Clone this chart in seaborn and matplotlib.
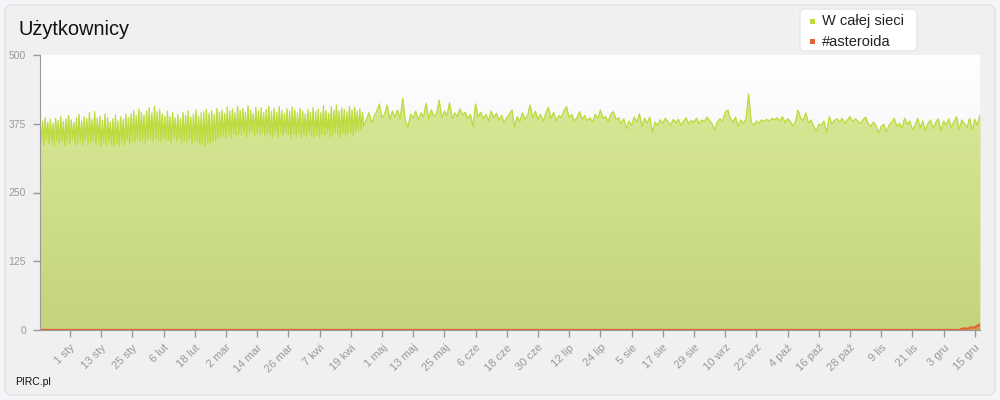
"""Użytkownicy - wykres obszarowy liczby użytkowników sieci."""

import numpy as np
import pandas as pd
import matplotlib
matplotlib.use('Agg')
import matplotlib.pyplot as plt
import matplotlib.dates as mdates
from matplotlib.patches import FancyBboxPatch, Rectangle
from matplotlib.transforms import IdentityTransform
from matplotlib.colors import to_rgb
import seaborn as sns

sns.set_style('white')
plt.rcParams['font.family'] = ['Liberation Sans', 'DejaVu Sans']

MONTHS = ['sty', 'lut', 'mar', 'kwi', 'maj', 'cze', 'lip', 'sie', 'wrz', 'paź', 'lis', 'gru']
Y_TICKS = [0, 125, 250, 375, 500]
SERIES_NAMES = ['W całej sieci', '#asteroida']

GREEN = '#bcdb3c'
ORANGE = '#e0652f'

# W całej sieci - co 12 godzin, od 20 gru 12:00 (dzień / noc)
users_winter = [
    384, 342, 380, 336, 386, 345, 378, 338, 383, 341, 376, 334, 385, 343,
    381, 337, 388, 344, 379, 335, 384, 342, 390, 339, 382, 346, 377, 336,
    386, 340, 392, 343, 380, 336, 388, 345, 384, 338, 395, 341, 383, 344,
    397, 337, 385, 342, 389, 333, 381, 340, 393, 336, 386, 343, 378, 338,
    384, 332, 391, 339, 380, 334, 388, 341, 383, 336, 392, 345, 386, 339,
    393, 344, 399, 341, 390, 348, 402, 343, 396, 346, 391, 340, 398, 345,
    404, 347, 395, 343, 407, 349, 397, 345, 401, 342, 393, 348, 389, 344,
    398, 346, 388, 341, 395, 349, 386, 343, 392, 347, 384, 340, 396, 345,
    390, 342, 398, 347, 387, 339, 393, 344, 400, 341, 389, 336, 395, 338,
    397, 334, 401, 340, 394, 337, 399, 343, 392, 345, 403, 348, 396, 351,
    400, 353, 394, 348, 405, 355, 398, 350, 402, 357, 395, 352, 407, 356,
    399, 354, 403, 358, 396, 351, 408, 356, 400, 360, 394, 353, 405, 357,
    398, 355, 404, 359, 395, 352, 401, 357, 407, 354, 397, 350, 403, 356,
    396, 351, 406, 357, 399, 353, 394, 359, 402, 355, 398, 349, 405, 356,
    400, 352, 395, 357, 403, 350, 398, 355, 393, 351, 401, 358, 396, 353,
    404, 350, 397, 355, 402, 349, 395, 356, 408, 352, 399, 357, 394, 351,
    406, 353, 400, 358, 409, 355, 398, 350, 404, 357, 401, 352, 397, 356,
    407, 358, 400, 354, 405, 360, 398, 362, 402, 364, 396, 370,
]

# W całej sieci - dziennie, od 25 kwi do 17 gru
users_rest = [
    383, 395, 377, 388, 398, 411, 386,
    392, 409, 383, 398, 387, 400, 384,
    421, 380, 369, 392, 386, 398, 381,
    395, 388, 412, 384, 400, 389, 393,
    418, 386, 398, 390, 413, 385, 395,
    388, 402, 391, 396, 384, 392, 370,
    411, 387, 396, 384, 392, 380, 398,
    386, 394, 381, 390, 377, 386, 392,
    400, 369, 388, 379, 395, 383, 390,
    409, 385, 398, 383, 392, 379, 394,
    405, 384, 396, 380, 390, 386, 399,
    406, 386, 392, 380, 386, 397, 383,
    390, 380, 386, 378, 392, 385, 400,
    385, 388, 379, 392, 397, 383, 386,
    375, 384, 366, 380, 372, 387, 378,
    393, 370, 385, 376, 387, 360, 378,
    372, 382, 376, 385, 379, 372, 383,
    377, 383, 372, 380, 386, 374, 381,
    378, 385, 375, 382, 379, 387, 381,
    374, 364, 378, 384, 380, 396, 400,
    385, 378, 387, 370, 382, 376, 384,
    429, 378, 372, 380, 376, 382, 379,
    383, 380, 385, 382, 386, 380, 388,
    377, 384, 380, 371, 378, 400, 386,
    380, 395, 376, 382, 371, 361, 374,
    372, 380, 358, 388, 375, 381, 384,
    378, 385, 376, 382, 388, 379, 384,
    380, 375, 382, 387, 375, 370, 378,
    372, 358, 370, 374, 360, 372, 378,
    385, 370, 376, 367, 385, 374, 380,
    364, 372, 385, 368, 380, 362, 376,
    382, 366, 378, 384, 362, 380, 372,
    384, 368, 379, 388, 364, 382, 375,
    368, 385, 364, 383, 372, 391,
]

# #asteroida - zero aż do połowy grudnia
asteroida_tail = [2, 3, 2, 4, 5, 4, 8, 10]

times = pd.date_range('2012-12-20 12:00', periods=len(users_winter), freq='12h').append(
    pd.date_range('2013-04-25', periods=len(users_rest), freq='D'))
users = users_winter + users_rest
asteroida = [0] * (len(users) - len(asteroida_tail)) + asteroida_tail
df = pd.DataFrame({'czas': times, 'siec': users, 'asteroida': asteroida})

fig = plt.figure(figsize=(10, 4), dpi=100)
fig.patch.set_facecolor('#f4f5f9')
px = IdentityTransform()
fig.add_artist(FancyBboxPatch((5, 5), 990, 390, boxstyle='round,pad=0,rounding_size=6',
                              transform=px, facecolor='#f0f0f0', edgecolor='#e2e2e2',
                              lw=1, zorder=-1))

ax = fig.add_axes([0.04, 0.175, 0.94, 0.6875])

# tło obszaru wykresu
bg = np.linspace(to_rgb('#ffffff'), to_rgb('#e9e9e9'), 256)[:, None, :]
ax.imshow(bg, extent=[0, 1, 0, 1], transform=ax.transAxes, aspect='auto', zorder=0)

# seria zielona z gradientem
fill = ax.fill_between(df['czas'], df['siec'], color='#cfe08a', lw=0, zorder=2)
grad = np.linspace(to_rgb('#d8e895'), to_rgb('#c3d47c'), 256)[:, None, :]
x0, x1 = mdates.date2num(times[0]), mdates.date2num(times[-1])
im = ax.imshow(grad, extent=[x0, x1, 0, 430], aspect='auto', zorder=2.1)
im.set_clip_path(fill.get_paths()[0], transform=ax.transData)
sns.lineplot(data=df, x='czas', y='siec', ax=ax, color=GREEN, lw=0.9, zorder=3)

# seria pomarańczowa
ax.fill_between(df['czas'], df['asteroida'], color=ORANGE, alpha=0.5, lw=0, zorder=4)
sns.lineplot(data=df, x='czas', y='asteroida', ax=ax, color=ORANGE, lw=1.6, zorder=5)

ax.set_xlim(times[0], times[-1])
ax.set_ylim(0, 500)
ax.set_yticks(Y_TICKS)
tick_dates = pd.date_range('2013-01-01', '2013-12-17', freq='12D')
ax.set_xticks(tick_dates)
ax.set_xticklabels([f'{d.day} {MONTHS[d.month - 1]}' for d in tick_dates],
                   rotation=45, ha='right', rotation_mode='anchor')
ax.tick_params(axis='both', colors='#999999', labelsize=8, length=5, width=1,
               direction='out', bottom=True, left=True)
ax.tick_params(axis='y', pad=5, labelsize=7.5)
ax.tick_params(axis='x', pad=4)
ax.set_xlabel('')
ax.set_ylabel('')
for s in ['top', 'right']:
    ax.spines[s].set_visible(False)
for s in ['left', 'bottom']:
    ax.spines[s].set_color('#999999')
    ax.spines[s].set_zorder(6)

# tytuł i podpis
fig.text(0.018, 1 - 35 / 400, 'Użytkownicy', fontsize=14.4, color='#111111', va='baseline')
fig.text(0.015, 1 - 385 / 400, 'PIRC.pl', fontsize=7.5, color='#111111', va='baseline')

# legenda
fig.add_artist(FancyBboxPatch((800, 349), 117, 42, boxstyle='round,pad=0,rounding_size=5',
                              transform=px, facecolor='white', edgecolor='#e6e6e6',
                              lw=1, zorder=2))
for i, (name, col) in enumerate(zip(SERIES_NAMES, [GREEN, ORANGE])):
    cy = 378.5 - 20 * i
    fig.add_artist(Rectangle((810, cy - 2.5), 5, 5, transform=px, facecolor=col,
                             edgecolor='none', zorder=3))
    fig.text(822 / 1000, cy / 400, name, fontsize=10.5, color='#222222',
             va='center', zorder=3)

plt.savefig('out.png', dpi=100)
plt.close()
